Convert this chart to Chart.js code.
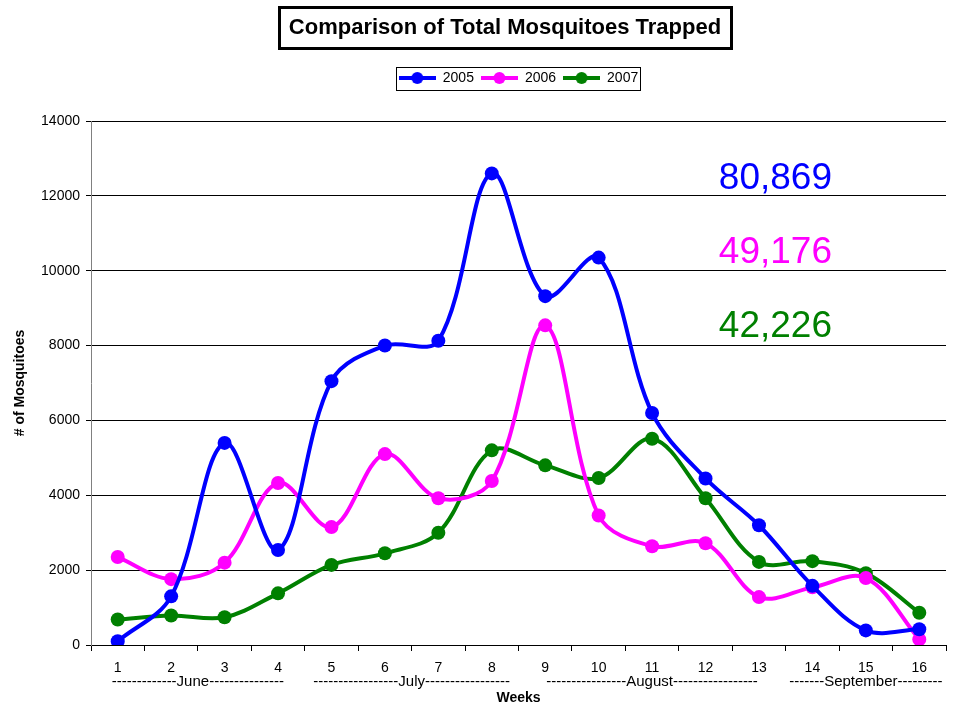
<!DOCTYPE html>
<html>
<head>
<meta charset="utf-8">
<title>Comparison of Total Mosquitoes Trapped</title>
<script src="https://cdn.jsdelivr.net/npm/chart.js@4.4.1/dist/chart.umd.min.js"></script>
<style>
    html, body { margin: 0; padding: 0; background: #ffffff; }
    #wrap { width: 953px; height: 707px; position: relative; }
</style>
</head>
<body>
<div id="wrap"><canvas id="chart"></canvas></div>
<script>
// Data
const weeks = ['1', '2', '3', '4', '5', '6', '7', '8', '9', '10', '11', '12', '13', '14', '15', '16'];
const counts2005 = [100, 1300, 5400, 2540, 7050, 8000, 8130, 12600, 9320, 10350, 6200, 4450, 3200, 1580, 390, 420];
const counts2006 = [2350, 1760, 2200, 4330, 3150, 5100, 3920, 4380, 8540, 3460, 2640, 2720, 1280, 1540, 1790, 150];
const counts2007 = [680, 790, 740, 1380, 2140, 2450, 3000, 5200, 4800, 4460, 5510, 3920, 2220, 2240, 1920, 860];
const seriesNames = ['2005', '2006', '2007'];
const seasonTotals = ['80,869', '49,176', '42,226'];
const yTicks = [0, 2000, 4000, 6000, 8000, 10000, 12000, 14000];
const monthLabels = ['-------------June---------------', '-----------------July-----------------',
    '----------------August-----------------', '-------September---------'];
const monthFirstWeek = [1, 5, 9, 14];
const monthLastWeek = [4, 8, 13, 16];

const colors = ['#0000FF', '#FF00FF', '#008000'];
const FONT = "'Liberation Sans', Arial, sans-serif";

// legend symbol: short line with a dot, like the original
function makeSymbol(color) {
    const c = document.createElement('canvas');
    c.width = 37;
    c.height = 14;
    const g = c.getContext('2d');
    g.strokeStyle = color;
    g.lineWidth = 4;
    g.beginPath();
    g.moveTo(0, 7);
    g.lineTo(37, 7);
    g.stroke();
    g.fillStyle = color;
    g.beginPath();
    g.arc(18.5, 7, 6, 0, Math.PI * 2);
    g.fill();
    return c;
}

const symbols = colors.map(makeSymbol);

// leave a gap between legend and plot, as in the original
const legendGap = {
    id: 'legendGap',
    beforeInit(chart) {
        const fit = chart.legend.fit;
        chart.legend.fit = function () {
            fit.call(this);
            this.height += 26;
        };
    }
};

const decorations = {
    id: 'decorations',
    afterDraw(chart) {
        const ctx = chart.ctx;
        ctx.save();

        // boxed title
        ctx.strokeStyle = '#000';
        ctx.lineWidth = 3;
        ctx.strokeRect(279.5, 7.5, 452, 41);
        ctx.fillStyle = '#000';
        ctx.font = 'bold 22px ' + FONT;
        ctx.textAlign = 'center';
        ctx.textBaseline = 'middle';
        ctx.fillText('Comparison of Total Mosquitoes Trapped', 505, 28);

        // frame round the legend
        const boxes = chart.legend.legendHitBoxes;
        if (boxes && boxes.length) {
            const left = Math.min(...boxes.map(b => b.left)) - 3;
            const right = Math.max(...boxes.map(b => b.left + b.width)) + 2;
            const top = boxes[0].top - 4;
            const bottom = boxes[0].top + boxes[0].height + 5;
            ctx.lineWidth = 1;
            ctx.strokeStyle = '#000';
            ctx.strokeRect(Math.round(left) + 0.5, Math.round(top) + 0.5,
                Math.round(right - left), Math.round(bottom - top));
        }

        // month bands under the week numbers
        const x = chart.scales.x;
        ctx.font = '15px ' + FONT;
        ctx.fillStyle = '#000';
        monthLabels.forEach((label, i) => {
            const a = x.getPixelForValue(monthFirstWeek[i] - 1);
            const b = x.getPixelForValue(monthLastWeek[i] - 1);
            ctx.fillText(label, (a + b) / 2, 682);
        });

        // season totals
        ctx.font = '37px ' + FONT;
        ctx.textAlign = 'right';
        seasonTotals.forEach((t, i) => {
            ctx.fillStyle = colors[i];
            ctx.fillText(t, 832, 179 + i * 74);
        });
        ctx.restore();
    }
};

const makeSet = (label, values, i) => ({
    label: label,
    data: values,
    borderColor: colors[i],
    backgroundColor: colors[i],
    borderWidth: 4,
    pointRadius: 7,
    pointHoverRadius: 7,
    pointBorderWidth: 0,
    pointStyle: 'circle',
    tension: 0.35,
    fill: false
});

new Chart(document.getElementById('chart'), {
    type: 'line',
    data: {
        labels: weeks,
        datasets: [
            makeSet(seriesNames[0], counts2005, 0),
            makeSet(seriesNames[1], counts2006, 1),
            makeSet(seriesNames[2], counts2007, 2)
        ]
    },
    options: {
        responsive: true,
        maintainAspectRatio: false,
        animation: false,
        layout: { padding: { top: 64, right: 0, bottom: 0, left: 0 } },
        plugins: {
            title: { display: false },
            tooltip: { enabled: false },
            legend: {
                display: true,
                position: 'top',
                fullSize: false,
                labels: {
                    color: '#000',
                    font: { family: FONT, size: 14 },
                    usePointStyle: true,
                    pointStyleWidth: 37,
                    boxHeight: 14,
                    padding: 7,
                    generateLabels: (chart) => chart.data.datasets.map((ds, i) => ({
                        text: ds.label,
                        pointStyle: symbols[i],
                        fillStyle: colors[i],
                        strokeStyle: colors[i],
                        lineWidth: 0,
                        datasetIndex: i,
                        fontColor: '#000'
                    }))
                }
            }
        },
        scales: {
            x: {
                offset: true,
                afterFit: (scale) => { scale.height = 62; },
                grid: {
                    offset: true,
                    drawOnChartArea: false,
                    drawTicks: true,
                    tickLength: 6,
                    color: '#000'
                },
                border: { color: '#000', width: 1 },
                ticks: {
                    color: '#000',
                    font: { family: FONT, size: 14 },
                    padding: 9,
                    maxRotation: 0,
                    autoSkip: false
                },
                title: {
                    display: true,
                    text: 'Weeks',
                    color: '#000',
                    font: { family: FONT, size: 14, weight: 'bold' },
                    padding: { top: 0, bottom: 0 }
                }
            },
            y: {
                min: 0,
                max: 14000,
                afterFit: (scale) => { scale.width = 91; },
                afterBuildTicks: (scale) => { scale.ticks = yTicks.map(v => ({ value: v })); },
                grid: {
                    color: '#000',
                    tickLength: 5,
                    lineWidth: 1
                },
                border: { color: '#808080', width: 1 },
                ticks: {
                    color: '#000',
                    font: { family: FONT, size: 14 },
                    padding: 6,
                    callback: (v) => String(v)
                },
                title: {
                    display: true,
                    text: '# of Mosquitoes',
                    color: '#000',
                    font: { family: FONT, size: 14, weight: 'bold' },
                    padding: { top: 12, bottom: 0 }
                }
            }
        }
    },
    plugins: [legendGap, decorations]
});
</script>
</body>
</html>
